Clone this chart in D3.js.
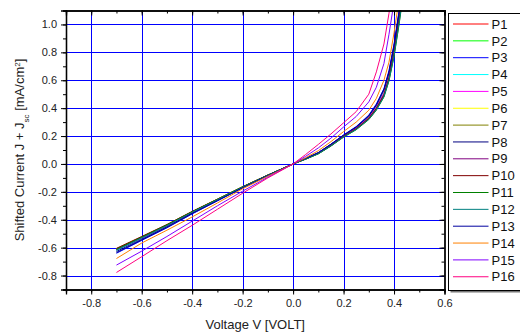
<!DOCTYPE html>
<html>
<head>
<meta charset="utf-8">
<script src="https://cdn.jsdelivr.net/npm/d3@7"></script>
<style>
  html, body { margin: 0; padding: 0; background: #fff; }
  svg { display: block; font-family: "Liberation Sans", Arial, sans-serif; }
</style>
</head>
<body>
<div id="chart"></div>
<script>
// voltage points shared by every sample (V)
const voltage = [-0.7, -0.6, -0.5, -0.4, -0.3, -0.2, -0.1, 0, 0.05, 0.1, 0.15, 0.2, 0.25, 0.3, 0.33, 0.36, 0.38, 0.40, 0.42, 0.44];

const names = ["P1", "P2", "P3", "P4", "P5", "P6", "P7", "P8", "P9", "P10", "P11", "P12", "P13", "P14", "P15", "P16"];

const colors = ["#ff0000", "#00ff00", "#0000ff", "#00ffff", "#ff00ff", "#ffff00", "#808000", "#000080",
                "#800080", "#800000", "#008000", "#008080", "#0000a0", "#ff8000", "#8000ff", "#ff0080"];

// shifted current J + Jsc (mA/cm2), one array per sample
const p1  = [-0.610, -0.526, -0.439, -0.344, -0.255, -0.165, -0.080, 0, 0.037, 0.077, 0.135, 0.200, 0.256, 0.332, 0.404, 0.503, 0.625, 0.805, 1.045, 1.305];
const p2  = [-0.614, -0.530, -0.442, -0.347, -0.257, -0.166, -0.081, 0, 0.037, 0.078, 0.136, 0.201, 0.258, 0.334, 0.407, 0.507, 0.630, 0.810, 1.050, 1.310];
const p3  = [-0.640, -0.548, -0.458, -0.358, -0.265, -0.172, -0.084, 0, 0.040, 0.082, 0.142, 0.208, 0.268, 0.350, 0.430, 0.540, 0.670, 0.860, 1.100, 1.360];
const p4  = [-0.620, -0.533, -0.444, -0.348, -0.258, -0.167, -0.081, 0, 0.038, 0.079, 0.137, 0.202, 0.259, 0.336, 0.410, 0.510, 0.635, 0.815, 1.055, 1.315];
const p5  = [-0.616, -0.531, -0.443, -0.347, -0.257, -0.166, -0.081, 0, 0.038, 0.078, 0.136, 0.201, 0.258, 0.335, 0.408, 0.508, 0.632, 0.812, 1.052, 1.312];
const p6  = [-0.609, -0.524, -0.437, -0.342, -0.253, -0.164, -0.080, 0, 0.036, 0.076, 0.133, 0.198, 0.253, 0.329, 0.400, 0.498, 0.618, 0.798, 1.038, 1.298];
const p7  = [-0.608, -0.523, -0.436, -0.342, -0.253, -0.164, -0.080, 0, 0.036, 0.075, 0.132, 0.197, 0.252, 0.327, 0.398, 0.495, 0.615, 0.795, 1.035, 1.295];
const p8  = [-0.628, -0.540, -0.450, -0.352, -0.260, -0.169, -0.082, 0, 0.039, 0.080, 0.140, 0.205, 0.263, 0.343, 0.420, 0.530, 0.655, 0.840, 1.080, 1.340];
const p9  = [-0.615, -0.529, -0.441, -0.346, -0.256, -0.166, -0.081, 0, 0.037, 0.077, 0.134, 0.199, 0.255, 0.330, 0.402, 0.500, 0.620, 0.800, 1.040, 1.300];
const p10 = [-0.605, -0.520, -0.434, -0.340, -0.252, -0.163, -0.079, 0, 0.035, 0.074, 0.130, 0.195, 0.250, 0.325, 0.395, 0.490, 0.610, 0.790, 1.030, 1.290];
const p11 = [-0.612, -0.525, -0.437, -0.343, -0.254, -0.164, -0.080, 0, 0.034, 0.072, 0.128, 0.192, 0.245, 0.318, 0.385, 0.480, 0.595, 0.770, 1.000, 1.260];
const p12 = [-0.618, -0.530, -0.442, -0.346, -0.256, -0.166, -0.081, 0, 0.035, 0.073, 0.130, 0.193, 0.247, 0.320, 0.388, 0.483, 0.600, 0.775, 1.010, 1.270];
const p13 = [-0.636, -0.545, -0.455, -0.356, -0.263, -0.171, -0.083, 0, 0.040, 0.081, 0.141, 0.206, 0.265, 0.346, 0.425, 0.535, 0.660, 0.850, 1.090, 1.350];
const p14 = [-0.678, -0.567, -0.475, -0.380, -0.280, -0.178, -0.088, 0, 0.045, 0.095, 0.160, 0.232, 0.300, 0.385, 0.470, 0.600, 0.730, 0.940, 1.180, 1.400];
const p15 = [-0.725, -0.625, -0.520, -0.410, -0.300, -0.195, -0.095, 0, 0.055, 0.115, 0.185, 0.265, 0.340, 0.445, 0.550, 0.720, 0.930, 1.160, 1.350, 1.600];
const p16 = [-0.778, -0.665, -0.550, -0.440, -0.325, -0.210, -0.100, 0, 0.068, 0.140, 0.215, 0.295, 0.375, 0.500, 0.660, 0.860, 1.080, 1.300, 1.500, 1.700];

const current = [p1, p2, p3, p4, p5, p6, p7, p8, p9, p10, p11, p12, p13, p14, p15, p16];

const xTicks = [-0.8, -0.6, -0.4, -0.2, 0.0, 0.2, 0.4, 0.6];
const yTicks = [-0.8, -0.6, -0.4, -0.2, 0.0, 0.2, 0.4, 0.6, 0.8, 1.0];

const W = 520, H = 336;
const plot = { left: 66, right: 444.5, top: 10.5, bottom: 289.5 };

const svg = d3.select("#chart").append("svg")
    .attr("width", W)
    .attr("height", H);

const x = d3.scaleLinear().domain([-0.9, 0.6]).range([plot.left, plot.right]);
const y = d3.scaleLinear().domain([-0.9, 1.1]).range([plot.bottom, plot.top]);

svg.append("defs").append("clipPath")
    .attr("id", "clip")
    .append("rect")
    .attr("x", plot.left)
    .attr("y", plot.top)
    .attr("width", plot.right - plot.left)
    .attr("height", plot.bottom - plot.top);

// blue grid
const grid = svg.append("g").attr("stroke", "#0000ff").attr("stroke-width", 1);
grid.selectAll(".gx")
    .data(xTicks.filter(d => d < 0.6))
    .join("line")
    .attr("x1", d => Math.round(x(d)) + 0.5).attr("x2", d => Math.round(x(d)) + 0.5)
    .attr("y1", plot.top).attr("y2", plot.bottom);
grid.selectAll(".gy")
    .data(yTicks)
    .join("line")
    .attr("y1", d => Math.round(y(d)) + 0.5).attr("y2", d => Math.round(y(d)) + 0.5)
    .attr("x1", plot.left).attr("x2", plot.right);

// curves
const line = d3.line()
    .x((d, i) => x(voltage[i]))
    .y(d => y(d));

svg.append("g")
    .attr("clip-path", "url(#clip)")
    .selectAll("path")
    .data(current)
    .join("path")
    .attr("fill", "none")
    .attr("stroke", (d, i) => colors[i])
    .attr("stroke-width", 1)
    .attr("stroke-linejoin", "round")
    .attr("d", line);

// axes: bottom/left ticks out, top/right ticks in
const minorX = d3.range(-0.9, 0.61, 0.1).map(v => +v.toFixed(2));
const minorY = d3.range(-0.9, 1.11, 0.1).map(v => +v.toFixed(2));
const fmt = d => d.toFixed(1);

svg.append("g")
    .attr("transform", "translate(0," + plot.bottom + ")")
    .call(d3.axisBottom(x).tickValues(minorX).tickSize(3).tickFormat(""));
svg.append("g")
    .attr("transform", "translate(0," + plot.bottom + ")")
    .call(d3.axisBottom(x).tickValues(xTicks).tickSize(5).tickPadding(5).tickFormat(fmt));

svg.append("g")
    .attr("transform", "translate(" + plot.left + ",0)")
    .call(d3.axisLeft(y).tickValues(minorY).tickSize(3).tickFormat(""));
svg.append("g")
    .attr("transform", "translate(" + plot.left + ",0)")
    .call(d3.axisLeft(y).tickValues(yTicks).tickSize(5).tickPadding(4).tickFormat(fmt));

svg.append("g")
    .attr("transform", "translate(0," + plot.top + ")")
    .call(d3.axisBottom(x).tickValues(minorX).tickSize(3).tickFormat(""));
svg.append("g")
    .attr("transform", "translate(0," + plot.top + ")")
    .call(d3.axisBottom(x).tickValues(xTicks).tickSize(5).tickFormat(""));

svg.append("g")
    .attr("transform", "translate(" + plot.right + ",0)")
    .call(d3.axisLeft(y).tickValues(minorY).tickSize(3).tickFormat(""));
svg.append("g")
    .attr("transform", "translate(" + plot.right + ",0)")
    .call(d3.axisLeft(y).tickValues(yTicks).tickSize(5).tickFormat(""));

svg.selectAll(".domain").attr("stroke", "#000").attr("stroke-width", 1.3);
svg.selectAll(".tick line").attr("stroke", "#000");
svg.selectAll(".tick text")
    .attr("fill", "#222")
    .style("font-size", "11px")
    .style("font-family", "'Liberation Sans', Arial, sans-serif");

// axis titles
svg.append("text")
    .attr("x", (plot.left + plot.right) / 2)
    .attr("y", 329)
    .attr("text-anchor", "middle")
    .attr("fill", "#222")
    .style("font-size", "13px")
    .text("Voltage V [VOLT]");

const yt = svg.append("text")
    .attr("transform", "translate(24," + ((plot.top + plot.bottom) / 2) + ") rotate(-90)")
    .attr("text-anchor", "middle")
    .attr("fill", "#222")
    .style("font-size", "13px");
yt.append("tspan").text("Shifted Current J + J");
yt.append("tspan").attr("baseline-shift", "sub").style("font-size", "8px").text("sc");
yt.append("tspan").text(" [mA/cm");
yt.append("tspan").attr("baseline-shift", "super").style("font-size", "8px").text("2");
yt.append("tspan").text("]");

// legend
const lg = { x: 448.5, y: 13.5, w: 80, h: 277, row: 16.85 };
svg.append("rect")
    .attr("x", lg.x + 2).attr("y", lg.y + 2)
    .attr("width", lg.w).attr("height", lg.h)
    .attr("fill", "#777");
svg.append("rect")
    .attr("x", lg.x).attr("y", lg.y)
    .attr("width", lg.w).attr("height", lg.h)
    .attr("fill", "#fff")
    .attr("stroke", "#000")
    .attr("stroke-width", 1);

const item = svg.append("g").selectAll("g")
    .data(names)
    .join("g")
    .attr("transform", (d, i) => "translate(0," + (lg.y + 10.5 + i * lg.row) + ")");
item.append("line")
    .attr("x1", 453).attr("x2", 488.5)
    .attr("stroke", (d, i) => colors[i])
    .attr("stroke-width", 1);
item.append("text")
    .attr("x", 491.5)
    .attr("dy", "0.36em")
    .attr("fill", "#111")
    .style("font-size", "13px")
    .text(d => d);
</script>
</body>
</html>
